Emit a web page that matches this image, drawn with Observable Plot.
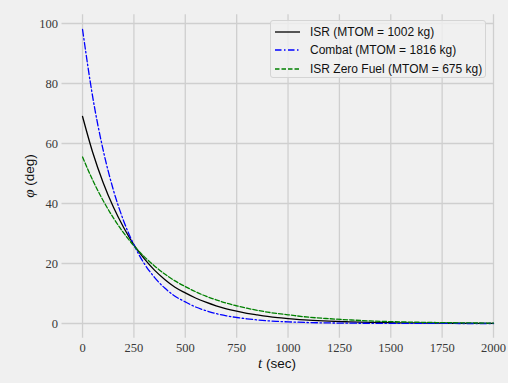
<!DOCTYPE html>
<html><head><meta charset="utf-8">
<script src="https://cdn.jsdelivr.net/npm/d3@7"></script>
<script src="https://cdn.jsdelivr.net/npm/@observablehq/plot@0.6"></script>
<style>
html,body{margin:0;padding:0;background:#f0f0f0;}
#wrap{position:relative;width:508px;height:383px;overflow:hidden;}
#legend{position:absolute;left:270px;top:20px;width:216px;height:58px;background:rgba(240,240,240,0.8);border:1px solid #d4d4d4;border-radius:3px;box-sizing:border-box;font-family:"Liberation Sans",sans-serif;font-size:12px;color:#111;}
.row{position:absolute;left:0;height:16px;display:flex;align-items:center;}
.row svg{margin-left:4px;margin-right:10px;}
.xl{position:absolute;left:0;width:554px;text-align:center;top:355px;font-family:"Liberation Sans",sans-serif;font-size:13.5px;color:#111;}
.yl{position:absolute;left:29px;top:176px;transform:translate(-50%,-50%) rotate(-90deg);white-space:nowrap;font-family:"Liberation Sans",sans-serif;font-size:13.5px;color:#111;}
.m{font-family:"Liberation Serif",serif;font-style:italic;font-size:15px;}
</style></head><body><div id="wrap"></div>
<script>
const time = [0,50,100,150,200,250,300,350,400,450,500,550,600,650,700,750,800,850,900,950,1000,1100,1200,1300,1400,1500,1600,1700,1800,1900,2000];
const isr = [69,56.9,47.0,38.8,32.0,26.2,21.6,17.8,14.7,12.1,10.2,8.5,7.1,5.9,4.9,4.1,3.4,2.85,2.35,1.95,1.65,1.13,0.78,0.54,0.37,0.26,0.18,0.12,0.08,0.05,0.03];
const combat = [98,75.3,57.9,44.5,34.2,26.2,20.0,15.4,11.8,9.1,7.2,5.5,4.3,3.3,2.55,2.0,1.55,1.2,0.9,0.7,0.55,0.32,0.19,0.11,0.07,0.04,0.02,0.01,0.01,0,0];
const zeroFuel = [55.5,47.7,41.0,35.2,30.2,25.9,22.3,19.2,16.5,14.2,12.3,10.6,9.1,7.9,6.8,5.9,5.1,4.4,3.8,3.3,2.9,2.1,1.6,1.2,0.85,0.62,0.46,0.34,0.25,0.18,0.13];
const seriesNames = ["ISR (MTOM = 1002 kg)","Combat (MTOM = 1816 kg)","ISR Zero Fuel (MTOM = 675 kg)"];
const seriesColors = ["#000000","#0000ff","#008000"];
const seriesDash = [null,"6.5,2.5,1.5,2.5","4.5,2"];
const xTicks = [0,250,500,750,1000,1250,1500,1750,2000];
const yTicks = [0,20,40,60,80,100];

const seriesData = [isr, combat, zeroFuel];
const gridColor = "#cfcfcf";

const plot = Plot.plot({
  width:508, height:383,
  marginLeft:61.5, marginRight:15, marginTop:14.3, marginBottom:45.3,
  style:{background:"#f0f0f0", fontFamily:"'Liberation Serif', serif", fontSize:"12.5px", color:"#383838"},
  x:{domain:[-100,2000], ticks:xTicks, tickSize:0, tickPadding:5, tickFormat:d=>String(d), label:null},
  y:{domain:[-4.9,102.9], ticks:yTicks, tickSize:0, tickPadding:4, tickFormat:d=>String(d), label:null},
  marks:[
    Plot.ruleX(xTicks,{stroke:gridColor,strokeWidth:1.3}),
    Plot.ruleY(yTicks,{stroke:gridColor,strokeWidth:1.3}),
    ...seriesData.map((arr,k)=>Plot.line(arr,{x:(d,i)=>time[i], y:d=>d, curve:"monotone-x", stroke:seriesColors[k], strokeWidth:1.3, strokeDasharray:seriesDash[k]}))
  ]
});
const wrap = document.getElementById("wrap");
wrap.appendChild(plot);

const leg = document.createElement("div");
leg.id = "legend";
seriesNames.forEach((name,k)=>{
  const r = document.createElement("div");
  r.className = "row";
  r.style.top = (3 + k*18.3) + "px";
  const dash = seriesDash[k] ? ` stroke-dasharray="${seriesDash[k]}"` : "";
  r.innerHTML = `<svg width="25" height="6"><line x1="0" x2="25" y1="3" y2="3" stroke="${seriesColors[k]}" stroke-width="1.3"${dash}/></svg><span>${name}</span>`;
  leg.appendChild(r);
});
wrap.appendChild(leg);

const xl = document.createElement("div");
xl.className = "xl";
xl.innerHTML = `<span class="m">t</span> (sec)`;
wrap.appendChild(xl);
const yl = document.createElement("div");
yl.className = "yl";
yl.innerHTML = `<span class="m">φ</span> (deg)`;
wrap.appendChild(yl);
</script>
</body></html>
